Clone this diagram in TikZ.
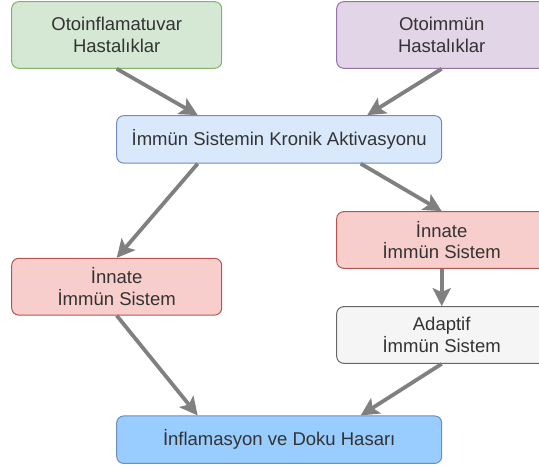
\documentclass[tikz,border=0pt]{standalone}
\usepackage{fontspec}
\setmainfont{Liberation Sans}
\usetikzlibrary{arrows.meta,calc}
\definecolor{greenfill}{HTML}{D5E8D4}
\definecolor{greenline}{HTML}{82B366}
\definecolor{purplefill}{HTML}{E1D5E7}
\definecolor{purpleline}{HTML}{9673A6}
\definecolor{lightblue}{HTML}{DAE8FC}
\definecolor{darkblue}{HTML}{99CCFF}
\definecolor{blueline}{HTML}{6C8EBF}
\definecolor{redfill}{HTML}{F8CECC}
\definecolor{redline}{HTML}{B85450}
\definecolor{grayfill}{HTML}{F5F5F5}
\definecolor{grayline}{HTML}{666666}
\definecolor{linkgray}{HTML}{808080}
\definecolor{txtgray}{HTML}{333333}

\begin{document}
\begin{tikzpicture}[x=1pt, y=-1pt,
    box/.style={draw, rounded corners=7pt, line width=1pt, align=center, text=txtgray,
        font=\fontsize{18.5}{21.7}\selectfont, minimum width=210pt, minimum height=56.7pt, inner sep=0pt},
    widebox/.style={box, minimum width=325pt, minimum height=47.5pt},
    link/.style={-{Stealth[length=18pt,width=18pt,inset=4pt]}, draw=linkgray, fill=linkgray, line width=3.8pt}]
    % 画布范围
    \useasboundingbox (0,0) rectangle (539,468);
    \clip (0,0) rectangle (539,468);

    % 两类疾病
    \node[box, fill=greenfill, draw=greenline, minimum height=66.6pt] (otoinf) at (116.7,35) {Otoinflamatuvar\\Hastalıklar};
    \node[box, fill=purplefill, draw=purpleline, minimum height=66.6pt] (otoimm) at (441.7,35) {Otoimmün\\Hastalıklar};

    % 慢性激活
    \node[widebox, fill=lightblue, draw=blueline] (kronik) at (279.2,139.4) {İmmün Sistemin Kronik Aktivasyonu};

    % 两侧免疫系统
    \node[box, fill=redfill, draw=redline] (innatesol) at (116.7,286.7) {İnnate\\İmmün Sistem};
    \node[box, fill=redfill, draw=redline] (innatesag) at (441.7,240) {İnnate\\İmmün Sistem};
    \node[box, fill=grayfill, draw=grayline] (adaptif) at (441.7,335) {Adaptif\\İmmün Sistem};

    % 结果
    \node[widebox, fill=darkblue, draw=blueline] (hasar) at (279.2,439.7) {İnflamasyon ve Doku Hasarı};

    % 箭头
    \draw[link] (otoinf.south) -- ($(kronik.north west)!0.25!(kronik.north east)$);
    \draw[link] (otoimm.south) -- ($(kronik.north west)!0.77!(kronik.north east)$);
    \draw[link] ($(kronik.south west)!0.25!(kronik.south east)$) -- (innatesol.north);
    \draw[link] ($(kronik.south west)!0.75!(kronik.south east)$) -- (innatesag.north);
    \draw[link] (innatesag.south) -- (adaptif.north);
    \draw[link] (innatesol.south) -- ($(hasar.north west)!0.25!(hasar.north east)$);
    \draw[link] (adaptif.south) -- ($(hasar.north west)!0.75!(hasar.north east)$);
\end{tikzpicture}
\end{document}
